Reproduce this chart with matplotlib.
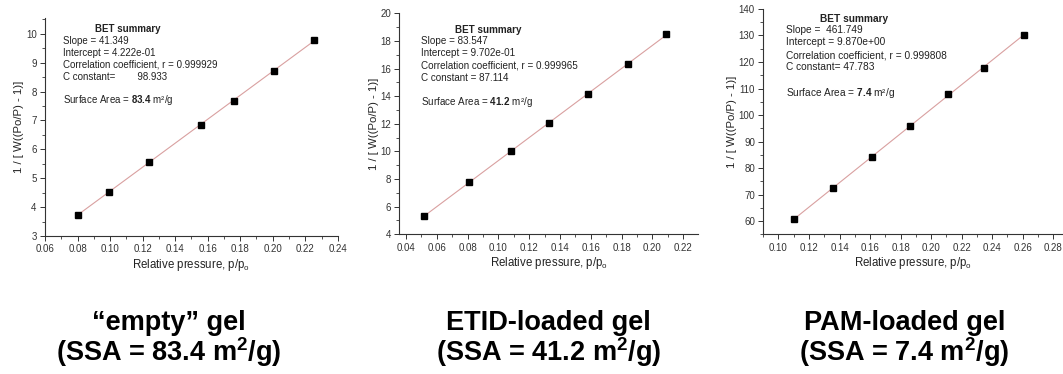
import matplotlib
matplotlib.use("Agg")
import matplotlib.pyplot as plt
from matplotlib.ticker import MultipleLocator
import numpy as np

plt.rcParams['font.family'] = ['Liberation Sans', 'DejaVu Sans']
plt.rcParams['mathtext.fontset'] = 'custom'
plt.rcParams['mathtext.rm'] = 'Liberation Sans'
plt.rcParams['mathtext.bf'] = 'Liberation Sans:bold'

# BET plot data
x_empty = [0.080, 0.0995, 0.124, 0.1558, 0.1763, 0.2005, 0.2255]
y_empty = [3.73, 4.54, 5.57, 6.83, 7.69, 8.71, 9.80]

x_etid = [0.052, 0.081, 0.108, 0.133, 0.158, 0.184, 0.209]
y_etid = [5.33, 7.80, 10.0, 12.05, 14.15, 16.30, 18.50]

x_pam = [0.110, 0.1355, 0.161, 0.186, 0.211, 0.2345, 0.261]
y_pam = [60.6, 72.3, 84.0, 95.9, 108.1, 117.6, 130.2]

summaries = [
    ["Slope = 41.349", "Intercept = 4.222e-01",
     "Correlation coefficient, r = 0.999929", "C constant=        98.933"],
    ["Slope = 83.547", "Intercept = 9.702e-01",
     "Correlation coefficient, r = 0.999965", "C constant = 87.114"],
    ["Slope =  461.749", "Intercept = 9.870e+00",
     "Correlation coefficient, r = 0.999808", "C constant= 47.783"],
]
areas = ["83.4", "41.2", "7.4"]
names = ["\u201cempty\u201d gel", "ETID-loaded gel", "PAM-loaded gel"]

fig = plt.figure(figsize=(10.63, 3.74), dpi=100)

axes_pos = [
    [0.0423, 0.369, 0.2755, 0.583],
    [0.3756, 0.3735, 0.281, 0.591],
    [0.718, 0.3735, 0.282, 0.6025],
]
xlims = [(0.06, 0.24), (0.0357, 0.2295), (0.09, 0.2865)]
ylims = [(3, 10.55), (4, 20), (55, 140)]
xmaj = [0.02, 0.02, 0.02]
ymaj = [1, 2, 10]
text_pos = [
    (0.283, 0.95, 0.061, [0.896, 0.841, 0.788, 0.731, 0.624]),
    (0.298, 0.924, 0.073, [0.875, 0.822, 0.765, 0.707, 0.598]),
    (0.304, 0.956, 0.076, [0.907, 0.855, 0.795, 0.742, 0.628]),
]
text_size = [7.0, 7.1, 7.25]
label_x = [0.159, 0.516, 0.851]

data = [(x_empty, y_empty), (x_etid, y_etid), (x_pam, y_pam)]

for i, (xs, ys) in enumerate(data):
    ax = fig.add_axes(axes_pos[i])
    xs = np.array(xs)
    ys = np.array(ys)
    k, b = np.polyfit(xs, ys, 1)
    xf = np.array([xs.min(), xs.max()])
    ax.plot(xf, k * xf + b, color='#d9a0a0', lw=0.8, zorder=1)
    ax.plot(xs, ys, 's', color='black', ms=3.7, zorder=2)

    ax.set_xlim(*xlims[i])
    ax.set_ylim(*ylims[i])
    ax.xaxis.set_major_locator(MultipleLocator(xmaj[i]))
    ax.xaxis.set_minor_locator(MultipleLocator(xmaj[i] / 2))
    ax.yaxis.set_major_locator(MultipleLocator(ymaj[i]))
    ax.yaxis.set_minor_locator(MultipleLocator(ymaj[i] / 2))
    ax.xaxis.set_major_formatter(plt.FormatStrFormatter('%.2f'))
    ax.spines['top'].set_visible(False)
    ax.spines['right'].set_visible(False)
    for s in ['left', 'bottom']:
        ax.spines[s].set_color('#333333')
        ax.spines[s].set_linewidth(0.8)
    ax.tick_params(which='major', length=3.5, width=0.7, labelsize=7,
                   colors='#333333', direction='out', pad=2.5)
    ax.tick_params(which='minor', length=2, width=0.6, colors='#333333',
                   direction='out')
    ax.set_xlabel("Relative pressure, p/p$_\\mathrm{o}$", fontsize=8.3,
                  color='#222222', labelpad=2)
    ax.set_ylabel("1 / [ W((Po/P) - 1)]", fontsize=8.2, color='#222222',
                  labelpad=1)

    fs = text_size[i]
    cx, cy, lx, ly = text_pos[i]
    ax.text(cx, cy, "BET summary", transform=ax.transAxes, fontsize=fs,
            fontweight='bold', ha='center', va='center', color='#222222')
    for line, yy in zip(summaries[i], ly[:4]):
        ax.text(lx, yy, line, transform=ax.transAxes, fontsize=fs,
                ha='left', va='center', color='#222222')
    ax.text(lx, ly[4], "Surface Area = $\\mathbf{%s}$ m\u00b2/g" % areas[i],
            transform=ax.transAxes, fontsize=fs, ha='left', va='center',
            color='#222222')

    fig.text(label_x[i], 0.136, names[i], fontsize=19.5, fontweight='bold',
             ha='center', va='center')
    fig.text(label_x[i], 0.058,
             "(SSA = %s m$^{\\mathbf{2}}$/g)" % areas[i], fontsize=19.5,
             fontweight='bold', ha='center', va='center')

fig.savefig("out.png", dpi=100)
